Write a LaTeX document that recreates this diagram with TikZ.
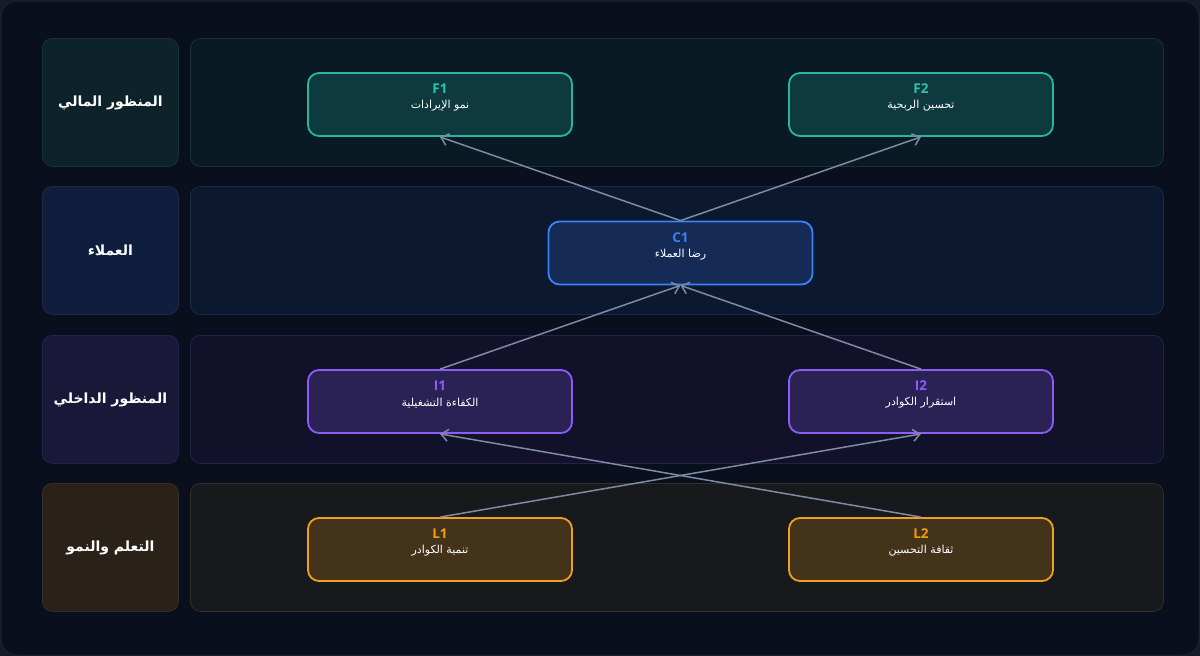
\documentclass[tikz,border=0pt]{standalone}
\usepackage{fontspec}
\setmainfont{DejaVu Sans}
\newfontfamily\arabicfont[Script=Arabic]{DejaVu Sans}
\newfontfamily\codefont{Open Sans}
\TeXXeTstate=1
\usetikzlibrary{arrows.meta}
\definecolor{pagebg}{HTML}{0A0F1E}
\definecolor{pageout}{HTML}{161B28}
\definecolor{pageborder}{HTML}{1C2433}
\definecolor{arrowc}{HTML}{7E8BA3}
% row 1 (financial)
\definecolor{laneA}{HTML}{0A1A25}
\definecolor{laneAb}{HTML}{173238}
\definecolor{headA}{HTML}{0D2329}
\definecolor{nodeA}{HTML}{0E3A3F}
\definecolor{nodeAb}{HTML}{2BB5A0}
\definecolor{codeA}{HTML}{2DC4AE}
% row 2 (customers)
\definecolor{laneB}{HTML}{0C1730}
\definecolor{laneBb}{HTML}{1A2A4A}
\definecolor{headB}{HTML}{0F1E3C}
\definecolor{nodeB}{HTML}{152B55}
\definecolor{nodeBb}{HTML}{3B82F6}
\definecolor{codeB}{HTML}{3B82F6}
% row 3 (internal)
\definecolor{laneC}{HTML}{11122A}
\definecolor{laneCb}{HTML}{24224A}
\definecolor{headC}{HTML}{1A1838}
\definecolor{nodeC}{HTML}{2A2255}
\definecolor{nodeCb}{HTML}{8B5CF6}
\definecolor{codeC}{HTML}{8B5CF6}
% row 4 (learning)
\definecolor{laneD}{HTML}{18191D}
\definecolor{laneDb}{HTML}{33302A}
\definecolor{headD}{HTML}{2A2218}
\definecolor{nodeD}{HTML}{42331A}
\definecolor{nodeDb}{HTML}{F0A020}
\definecolor{codeD}{HTML}{F59E0B}
\tikzset{
  lanebox/.style={rounded corners=10pt, line width=0.8pt, anchor=north west, minimum width=973pt, minimum height=128pt, inner sep=0pt},
  headbox/.style={rounded corners=10pt, line width=0.8pt, anchor=north west, minimum width=136pt, minimum height=128pt, inner sep=0pt, text=white, font=\arabicfont\bfseries\fontsize{14}{17}\selectfont},
  objbox/.style={rounded corners=11pt, line width=1.8pt, minimum width=264pt, minimum height=63pt, inner sep=0pt},
  codetext/.style={font=\codefont\bfseries\fontsize{13.5}{15}\selectfont, inner sep=0pt},
  objtext/.style={font=\arabicfont\fontsize{11}{13}\selectfont, text=white, inner sep=0pt},
  arr/.style={draw=arrowc, line width=1.5pt, -{Straight Barb[length=7pt, width=12pt, line width=1.5pt]}}
}
\newcommand{\ar}[1]{\beginR #1\endR}
\begin{document}
\begin{tikzpicture}[x=1pt, y=-1pt]
\fill[pageout] (0,0) rectangle (1200,656);
\useasboundingbox (0,0) rectangle (1200,656);
\fill[pagebg, draw=pageborder, line width=1pt, rounded corners=16pt] (1,1) rectangle (1199,655);

% lanes
\node[lanebox, fill=laneA, draw=laneAb] (laneF) at (190,38) {};
\node[lanebox, fill=laneB, draw=laneBb] (laneC) at (190,186) {};
\node[lanebox, fill=laneC, draw=laneCb] (laneI) at (190,335) {};
\node[lanebox, fill=laneD, draw=laneDb] (laneL) at (190,483) {};

% headers
\node[headbox, fill=headA, draw=laneAb] (hF) at (42,38) {\ar{المنظور المالي}};
\node[headbox, fill=headB, draw=laneBb] (hC) at (42,186) {\ar{العملاء}};
\node[headbox, fill=headC, draw=laneCb] (hI) at (42,335) {\ar{المنظور الداخلي}};
\node[headbox, fill=headD, draw=laneDb] (hL) at (42,483) {\ar{التعلم والنمو}};

% objectives
\node[objbox, fill=nodeA, draw=nodeAb] (f1) at (440,104.5) {};
\node[objbox, fill=nodeA, draw=nodeAb] (f2) at (921,104.5) {};
\node[objbox, fill=nodeB, draw=nodeBb] (c1) at (680.5,253) {};
\node[objbox, fill=nodeC, draw=nodeCb] (i1) at (440,401.5) {};
\node[objbox, fill=nodeC, draw=nodeCb] (i2) at (921,401.5) {};
\node[objbox, fill=nodeD, draw=nodeDb] (l1) at (440,549.5) {};
\node[objbox, fill=nodeD, draw=nodeDb] (l2) at (921,549.5) {};

\node[codetext, text=codeA] (f1c) at ([yshift=-17pt]f1.north) {F1};
\node[objtext] (f1t) at ([yshift=-34pt]f1.north) {\ar{نمو الإيرادات}};
\node[codetext, text=codeA] (f2c) at ([yshift=-17pt]f2.north) {F2};
\node[objtext] (f2t) at ([yshift=-34pt]f2.north) {\ar{تحسين الربحية}};
\node[codetext, text=codeB] (c1c) at ([yshift=-17pt]c1.north) {C1};
\node[objtext] (c1t) at ([yshift=-34pt]c1.north) {\ar{رضا العملاء}};
\node[codetext, text=codeC] (i1c) at ([yshift=-17pt]i1.north) {I1};
\node[objtext] (i1t) at ([yshift=-34pt]i1.north) {\ar{الكفاءة التشغيلية}};
\node[codetext, text=codeC] (i2c) at ([yshift=-17pt]i2.north) {I2};
\node[objtext] (i2t) at ([yshift=-34pt]i2.north) {\ar{استقرار الكوادر}};
\node[codetext, text=codeD] (l1c) at ([yshift=-17pt]l1.north) {L1};
\node[objtext] (l1t) at ([yshift=-34pt]l1.north) {\ar{تنمية الكوادر}};
\node[codetext, text=codeD] (l2c) at ([yshift=-17pt]l2.north) {L2};
\node[objtext] (l2t) at ([yshift=-34pt]l2.north) {\ar{ثقافة التحسين}};

% connectors
\draw[arr] (c1.north) -- (f1.south);
\draw[arr] (c1.north) -- (f2.south);
\draw[arr] (i1.north) -- (c1.south);
\draw[arr] (i2.north) -- (c1.south);
\draw[arr] (l1.north) -- (i2.south);
\draw[arr] (l2.north) -- (i1.south);
\end{tikzpicture}
\end{document}
